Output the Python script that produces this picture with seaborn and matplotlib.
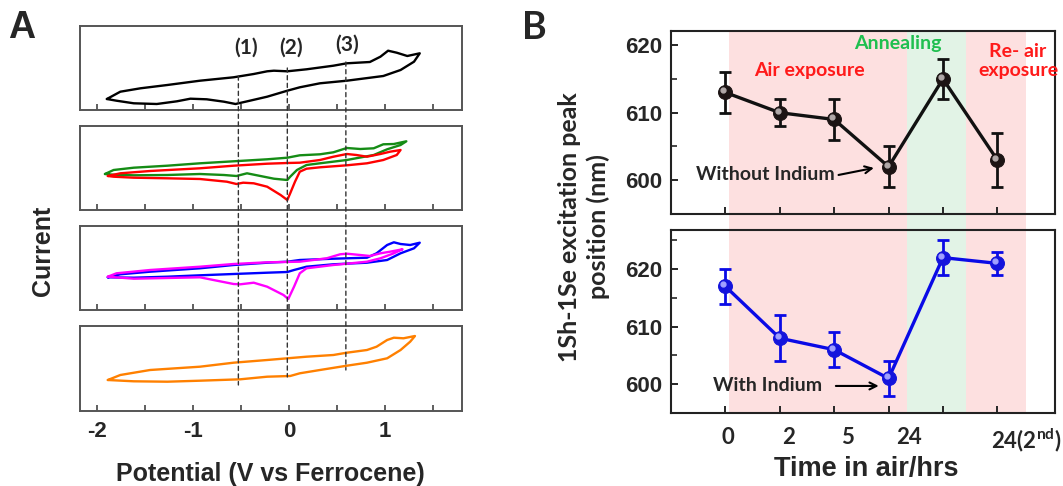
import numpy as np
import pandas as pd
import matplotlib.pyplot as plt
import seaborn as sns
from matplotlib.patches import ConnectionPatch
from matplotlib.transforms import offset_copy

# ---------------------------------------
# Data: panel A, cyclic voltammograms (potential in V, current in a.u.)
# ---------------------------------------
black_v = [-1.90, -1.76, -1.55, -1.27, -0.93, -0.58, -0.37, -0.23, -0.16, -0.02, 0.18, 0.46, 0.60, 0.84,
           0.95, 1.03, 1.12, 1.23, 1.36, 1.30, 1.16, 0.98, 0.60, 0.32, 0.11, -0.02, -0.23, -0.41, -0.56,
           -0.68, -0.86, -1.03, -1.17, -1.38, -1.62, -1.80, -1.90]
black_i = [11, 18.3, 21.7, 25, 29.3, 32.7, 36, 38.7, 39.3, 38.7, 40.7, 44.3, 46.7, 48,
           53.3, 59.3, 57.3, 54, 56.7, 48.3, 40, 34, 29.3, 26.7, 22.7, 19.3, 13.3, 9.3, 6,
           8.3, 10.7, 11.3, 8.7, 6, 6.7, 9.3, 11]

green_v = [-1.92, -1.83, -1.62, -1.27, -0.93, -0.58, -0.23, -0.02, 0.11, 0.32, 0.46, 0.60, 0.74, 0.88,
           0.98, 1.09, 1.22, 1.16, 1.02, 0.88, 0.60, 0.32, 0.18, 0.08, 0.01, -0.02, -0.16, -0.30, -0.44,
           -0.55, -0.68, -0.93, -1.27, -1.62, -1.83, -1.92]
green_i = [36, 40, 42.3, 44.3, 46.7, 48.7, 50.7, 52.3, 54.7, 55.7, 57.7, 62, 61, 61.7,
           65.7, 66, 68.7, 65, 60.7, 55, 50, 46.7, 45, 40, 33.3, 30, 31.3, 34, 36.7,
           34, 35, 36, 35, 34.7, 35.3, 36]

red_v = [-1.89, -1.76, -1.45, -0.93, -0.58, -0.23, -0.02, 0.11, 0.32, 0.46, 0.60, 0.70, 0.81, 0.95,
         1.05, 1.16, 1.12, 0.98, 0.81, 0.60, 0.32, 0.18, 0.11, 0.06, 0.01, -0.02, -0.09, -0.23, -0.37,
         -0.48, -0.55, -0.65, -0.93, -1.27, -1.62, -1.83, -1.89]
red_i = [34, 36.7, 39, 41.7, 44.3, 46.3, 47, 47.3, 50, 53.3, 56, 55, 53.3, 56,
         58.3, 60, 55, 50, 46.7, 44.7, 42.7, 41.3, 38.3, 28.3, 16.7, 10, 15, 23.3, 26.7,
         27.3, 26, 28.3, 31, 31.7, 32.3, 33.3, 34]

blue_v = [-1.89, -1.76, -1.45, -0.93, -0.58, -0.23, -0.02, 0.11, 0.46, 0.81, 0.91, 1.02, 1.09, 1.16,
          1.26, 1.36, 1.30, 1.16, 1.02, 0.81, 0.46, 0.18, 0.05, -0.02, -0.23, -0.58, -0.93, -1.27,
          -1.62, -1.89]
blue_i = [32.7, 35.7, 38.3, 41.7, 45, 47.3, 48.3, 50, 51.3, 52.3, 56.7, 65, 67.7, 66,
          65, 67.3, 61.7, 56.7, 50, 47.3, 45.7, 43.3, 40, 38, 37.3, 36, 34.7, 33.3,
          32.3, 32.7]

magenta_v = [-1.89, -1.80, -1.45, -0.93, -0.58, -0.23, 0.11, 0.39, 0.53, 0.60, 0.74, 0.84, 0.95, 1.05,
             1.18, 1.09, 0.95, 0.81, 0.46, 0.18, 0.11, 0.05, -0.01, -0.06, -0.23, -0.37, -0.51, -0.58,
             -0.79, -0.93, -1.27, -1.62, -1.89]
magenta_i = [33.3, 36.7, 40, 43.3, 46, 47.7, 48.3, 51.7, 55.7, 56.3, 55, 54, 56.7, 58.3,
             60.7, 56.7, 51.7, 48.3, 45, 41.7, 36.7, 23.3, 11, 15, 23.3, 27.3, 25.7, 26,
             30, 32.7, 32, 31.3, 33.3]

orange_v = [-1.89, -1.76, -1.45, -0.93, -0.58, -0.23, -0.02, 0.18, 0.46, 0.60, 0.81, 0.91, 1.02, 1.09,
            1.19, 1.31, 1.26, 1.16, 1.02, 0.81, 0.60, 0.32, 0.11, 0.01, -0.23, -0.51, -0.93, -1.27,
            -1.62, -1.89]
orange_i = [31, 36, 41, 44.3, 48.3, 51, 52.7, 54.3, 56, 58.3, 61, 64.3, 71, 73.3,
            72.7, 75, 69.3, 61, 52.7, 48.3, 45.3, 41, 37.7, 35, 34.3, 31.7, 30.3, 29.3,
            29.7, 31]

# marked potentials (1), (2), (3) and where the dashed guides start / end
mark_v = [-0.53, -0.02, 0.59]
mark_top_i = [34, 42, 48]
mark_bot_i = [26, 34, 41]
mark_labels = ['(1)', '(2)', '(3)']

# ---------------------------------------
# Data: panel B, 1Sh-1Se peak position
# ---------------------------------------
steps = [0, 1, 2, 3, 4, 5]
no_in_peak = [613, 610, 609, 602, 615, 603]
no_in_err = [3, 2, 3, 3, 3, 4]
in_peak = [617, 608, 606, 601, 622, 621]
in_err = [3, 4, 3, 3, 3, 2]
time_tick_pos = [0.05, 1.16, 2.24, 3.38, 5.54]
time_tick_labels = ['0', '2', '5', '24', '24(2$^{\\mathregular{nd}}$)']
phases = [(0.06, 3.33, '#fde0e0'), (3.33, 4.42, '#e2f3e6'), (4.42, 5.52, '#fde0e0')]

# ---------------------------------------
# Figure setup
# ---------------------------------------
sns.set_style('ticks')
plt.rcParams['font.family'] = ['Liberation Sans', 'DejaVu Sans']
plt.rcParams['font.weight'] = 'bold'
plt.rcParams['axes.unicode_minus'] = False
plt.rcParams['mathtext.default'] = 'regular'
CAL = ['Lato', 'DejaVu Sans']

W, H = 1063, 486
fig = plt.figure(figsize=(W / 100, H / 100), dpi=100)


def px_axes(x0, y0, x1, y1):
    return fig.add_axes([x0 / W, 1 - y1 / H, (x1 - x0) / W, (y1 - y0) / H])


# ---------------------------------------
# Panel A
# ---------------------------------------
boxes = [(26, 110), (126, 210), (226, 310), (326, 411)]
panels = [
    [(black_v, black_i, 'black')],
    [(green_v, green_i, '#158c15'), (red_v, red_i, '#ff0000')],
    [(blue_v, blue_i, '#0000ff'), (magenta_v, magenta_i, '#ff00ff')],
    [(orange_v, orange_i, '#ff8000')],
]
axA = []
for (top, bot), curves in zip(boxes, panels):
    ax = px_axes(80, top, 462, bot)
    for v, i, c in curves:
        sns.lineplot(x=v, y=i, sort=False, estimator=None, color=c, lw=1.7, ax=ax,
                     solid_joinstyle='round')
    ax.set_xlim(-2.18, 1.80)
    ax.set_ylim(0, bot - top)
    ax.set_yticks([])
    ax.set_xticks([-2, -1, 0, 1])
    ax.set_xticks([-1.5, -0.5, 0.5, 1.5], minor=True)
    ax.tick_params(axis='x', which='both', direction='in', length=4, width=1.2,
                   color='#444444', labelsize=16, pad=7)
    for s in ax.spines.values():
        s.set_color('#555555')
        s.set_linewidth(1.4)
    ax.set_xlabel('')
    ax.set_ylabel('')
    if bot != 411:
        ax.set_xticklabels([])
    axA.append(ax)

for v, ti, bi, lab in zip(mark_v, mark_top_i, mark_bot_i, mark_labels):
    con = ConnectionPatch(xyA=(v, ti), coordsA=axA[0].transData,
                          xyB=(v, bi), coordsB=axA[3].transData,
                          ls=(0, (3, 2.5)), lw=1.0, color='#333333', zorder=5)
    fig.add_artist(con)
label_pos = [(-0.45, 62), (0.02, 62), (0.60, 65)]
for (x, y), lab in zip(label_pos, mark_labels):
    axA[0].text(x, y, lab, family=CAL, fontsize=15, fontweight='bold', ha='center', va='center')

fig.text(22 / W, 1 - 28 / H, 'A', fontsize=27, fontweight='bold', ha='center', va='center')
fig.text(43 / W, 1 - 251 / H, 'Current', fontsize=18, fontweight='bold', rotation=90,
         ha='center', va='center')
fig.text(270 / W, 1 - 474 / H, 'Potential (V vs Ferrocene)', fontsize=18, fontweight='bold',
         ha='center', va='center')

# ---------------------------------------
# Panel B
# ---------------------------------------
xlimB = (-1.0, 6.06)
bg = px_axes(671, 31, 1055, 413)
bg.set_xlim(*xlimB)
for x0, x1, c in phases:
    bg.axvspan(x0, x1, color=c, lw=0)
bg.axis('off')
bg.set_zorder(0)

series = [
    (31, 214, no_in_peak, no_in_err, '#111111', '#1c1414', '#b0a8a8', (595, 622.1), [605, 615]),
    (230, 413, in_peak, in_err, '#0a0ae6', '#1414dc', '#a0a0ff', (595, 626.8), [605, 615, 625]),
]
axB = []
for top, bot, vals, err, lc, mc, hc, ylim, minors in series:
    ax = px_axes(671, top, 1055, bot)
    ax.set_zorder(1)
    ax.patch.set_alpha(0)
    ax.errorbar(steps, vals, yerr=err, fmt='none', ecolor=lc, elinewidth=2, capsize=4,
                capthick=2, zorder=2)
    sns.lineplot(x=steps, y=vals, sort=False, estimator=None, color=lc, lw=2.4, marker='o',
                 markersize=10, markerfacecolor=mc, markeredgecolor=mc, ax=ax, zorder=3)
    ax.plot(steps, vals, 'o', ms=3.5, color=hc, zorder=4,
            transform=offset_copy(ax.transData, fig=fig, x=-2, y=2, units='dots'))
    ax.set_xlim(*xlimB)
    ax.set_ylim(*ylim)
    ax.set_yticks([600, 610, 620])
    ax.set_yticks(minors, minor=True)
    ax.set_xticks(time_tick_pos)
    ax.set_xticks(steps, minor=True)
    ax.tick_params(axis='y', which='major', direction='in', length=5, width=1.4, labelsize=16, pad=6)
    ax.tick_params(axis='y', which='minor', direction='in', length=4, width=1.2)
    ax.tick_params(axis='x', which='major', length=0, pad=10)
    ax.tick_params(axis='x', which='minor', direction='in', length=5, width=1.4)
    for s in ax.spines.values():
        s.set_color('#222222')
        s.set_linewidth(1.5)
    ax.set_xlabel('')
    ax.set_ylabel('')
    axB.append(ax)

axB[0].set_xticklabels([])
axB[1].set_xticklabels(time_tick_labels, family=CAL, fontsize=16, fontweight='bold')

# annotations
axB[0].text(0.74, 600.8, 'Without Indium', family=CAL, fontsize=14, ha='center', va='center',
            fontweight='bold')
axB[0].annotate('', xy=(2.78, 601.9), xytext=(2.03, 600.7),
                arrowprops=dict(arrowstyle='->,head_length=0.5,head_width=0.25', lw=1.5, color='black'))
axB[1].text(0.77, 599.7, 'With Indium', family=CAL, fontsize=14, ha='center', va='center',
            fontweight='bold')
axB[1].annotate('', xy=(2.87, 599.7), xytext=(1.98, 599.7),
                arrowprops=dict(arrowstyle='->,head_length=0.5,head_width=0.25', lw=1.5, color='black'))
axB[0].text(1.54, 616.2, 'Air exposure', family=CAL, fontsize=14, fontweight='bold',
            color='#ff1a1a', ha='center', va='center')
axB[0].text(3.17, 620.25, 'Annealing', family=CAL, fontsize=14, fontweight='bold',
            color='#1fbf4f', ha='center', va='center')
axB[0].text(5.38, 617.7, 'Re- air\nexposure', family=CAL, fontsize=14, fontweight='bold',
            color='#ff1a1a', ha='center', va='center', linespacing=1.15)

fig.text(534 / W, 1 - 28 / H, 'B', family=CAL, fontsize=27, fontweight='bold', ha='center', va='center')
fig.text(584 / W, 1 - 227 / H, '1Sh-1Se excitation peak\nposition (nm)', family=CAL, fontsize=18,
         fontweight='bold', rotation=90, ha='center', va='center', linespacing=1.25)
fig.text(866 / W, 1 - 469 / H, 'Time in air/hrs', fontsize=19.5, fontweight='bold',
         ha='center', va='center')

plt.savefig('out.png', dpi=100)
